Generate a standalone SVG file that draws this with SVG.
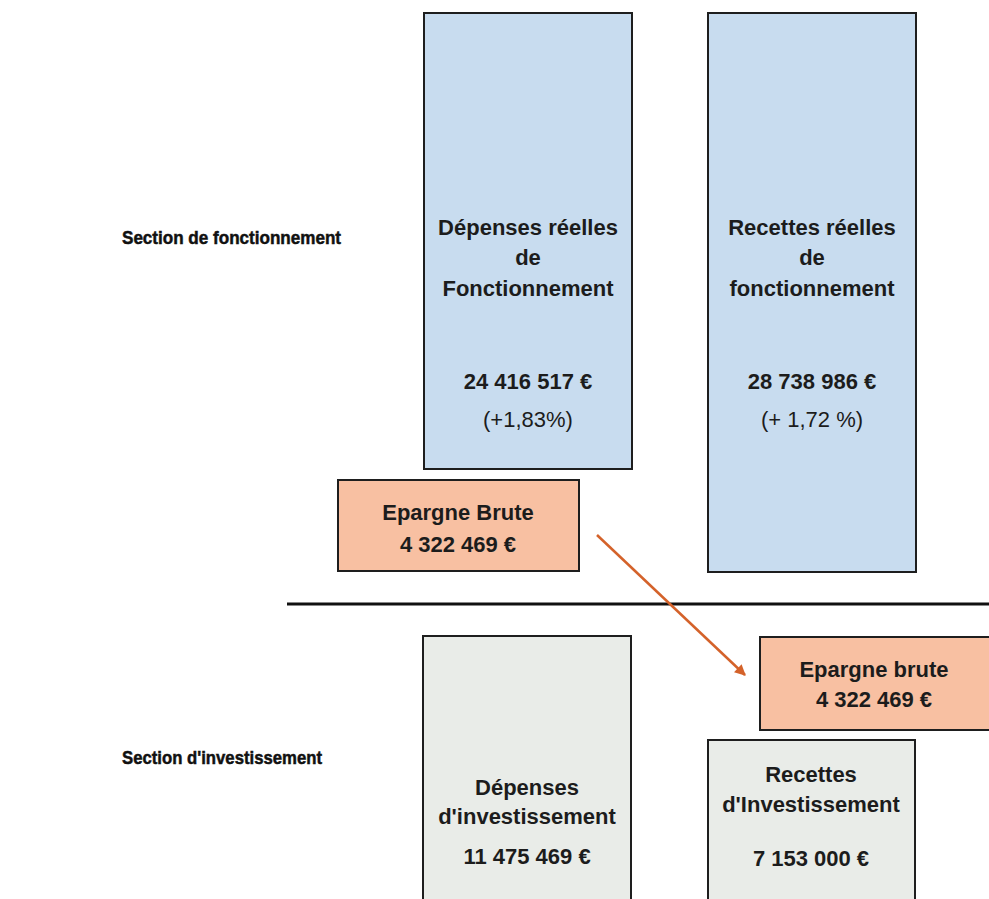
<svg xmlns="http://www.w3.org/2000/svg" width="989" height="899" viewBox="0 0 989 899">
<defs>
<style>
.box{stroke:#1e1e1e;stroke-width:2}
.blue{fill:#c8dcef}
.salmon{fill:#f8c0a2}
.grey{fill:#e9ece8}
.t{font-family:"Liberation Sans",Arial,sans-serif;font-size:22px;font-weight:bold;fill:#1c1c1c;text-anchor:middle}
.r{font-weight:normal}
.lbl{font-family:"Liberation Sans",Arial,sans-serif;font-size:19px;font-weight:bold;fill:#111;stroke:#111;stroke-width:0.5}
</style>
<marker id="ah" viewBox="0 0 10 10" refX="9" refY="5" markerWidth="12" markerHeight="11" orient="auto" markerUnits="userSpaceOnUse">
<path d="M0,0 L10,5 L0,10 z" fill="#d4622a"/>
</marker>
</defs>
<rect width="989" height="899" fill="#ffffff"/>
<g id="label-fonctionnement"><text class="lbl" x="122" y="244" textLength="219" lengthAdjust="spacingAndGlyphs">Section de fonctionnement</text></g>
<g id="label-investissement"><text class="lbl" x="122" y="764" textLength="200" lengthAdjust="spacingAndGlyphs">Section d'investissement</text></g>
<line x1="287" y1="604" x2="989" y2="604" stroke="#111" stroke-width="3"/>
<g id="depenses-fonct">
<rect class="box blue" x="424" y="13" width="208" height="456"/>
<text class="t" x="528" y="235">Dépenses réelles</text>
<text class="t" x="528" y="265">de</text>
<text class="t" x="528" y="296">Fonctionnement</text>
<text class="t" x="528" y="389">24 416 517 €</text>
<text class="t r" x="528" y="427">(+1,83%)</text>
</g>
<g id="recettes-fonct">
<rect class="box blue" x="708" y="13" width="208" height="559"/>
<text class="t" x="812" y="235">Recettes réelles</text>
<text class="t" x="812" y="265">de</text>
<text class="t" x="812" y="296">fonctionnement</text>
<text class="t" x="812" y="389">28 738 986 €</text>
<text class="t r" x="812" y="427">(+ 1,72 %)</text>
</g>
<g id="epargne-brute-1">
<rect class="box salmon" x="338" y="480" width="241" height="91"/>
<text class="t" x="458" y="520">Epargne Brute</text>
<text class="t" x="458" y="552">4 322 469 €</text>
</g>
<g id="depenses-invest">
<rect class="box grey" x="423" y="636" width="208" height="300"/>
<text class="t" x="527" y="795">Dépenses</text>
<text class="t" x="527" y="824">d'investissement</text>
<text class="t" x="527" y="864">11 475 469 €</text>
</g>
<g id="epargne-brute-2">
<rect class="box salmon" x="760" y="637" width="240" height="93"/>
<text class="t" x="874" y="677">Epargne brute</text>
<text class="t" x="874" y="707">4 322 469 €</text>
</g>
<g id="recettes-invest">
<rect class="box grey" x="708" y="740" width="207" height="200"/>
<text class="t" x="811" y="782">Recettes</text>
<text class="t" x="811" y="812">d'Investissement</text>
<text class="t" x="811" y="866">7 153 000 €</text>
</g>
<g id="connectors">
<line x1="597" y1="535" x2="745" y2="675" stroke="#d4622a" stroke-width="2.5" marker-end="url(#ah)"/>
</g>
</svg>
